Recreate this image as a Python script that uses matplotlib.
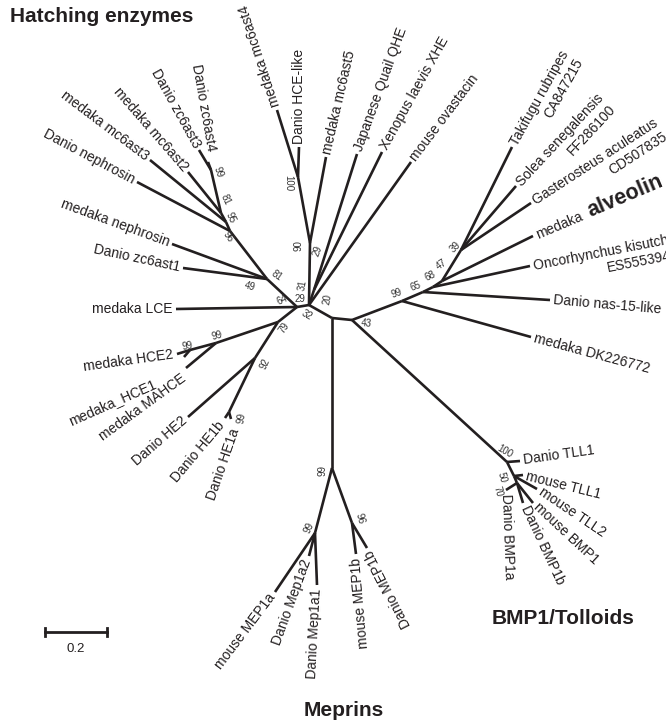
import numpy as np
import matplotlib.pyplot as plt

plt.rcParams['font.family'] = ['Liberation Sans', 'DejaVu Sans']

ink = '#231f20'

# inner nodes of the unrooted tree (pixels, y down)
node_xy = {
    'C': (309, 305), 'L': (297, 307), 'n81': (267, 279), 'n96': (230, 231),
    'n81b': (226, 222), 'n95': (221, 213), 'n99h': (211, 170),
    'n79': (278, 322), 'n99a': (216, 343), 'n99b': (190, 350),
    'n92': (255, 358), 'n99c': (229, 412),
    'n90': (310, 243), 'n100': (298, 177), 'n29': (314, 290),
    'M': (332, 318), 'n43': (352, 320),
    'n99m': (332, 468), 'n99l': (315, 533), 'n96m': (352, 523),
    'n99r': (402, 301), 'n65': (423, 292), 'n68': (433, 287),
    'n47': (442, 281), 'n39': (461, 250),
    'n100b': (507, 462), 'n50': (514, 476), 'n70': (517, 483),
}

edges = [
    ('C', 'L'), ('C', 'n90'), ('C', 'n29'), ('C', 'M'),
    ('L', 'n81'), ('L', 'n79'), ('n81', 'n96'), ('n96', 'n81b'),
    ('n81b', 'n95'), ('n95', 'n99h'), ('n90', 'n100'),
    ('n79', 'n99a'), ('n99a', 'n99b'), ('n79', 'n92'), ('n92', 'n99c'),
    ('M', 'n43'), ('M', 'n99m'), ('n99m', 'n99l'), ('n99m', 'n96m'),
    ('n43', 'n99r'), ('n99r', 'n65'), ('n65', 'n68'), ('n68', 'n47'),
    ('n47', 'n39'), ('n43', 'n100b'), ('n100b', 'n50'), ('n50', 'n70'),
]

tip_names = [
    'medaka mc6ast4', 'Danio HCE-like', 'medaka mc6ast5', 'Japanese Quail QHE',
    'Xenopus laevis XHE', 'mouse ovastacin',
    'Takifugu rubripes\nCA847215', 'Solea senegalensis\nFF286100',
    'Gasterosteus aculeatus\nCD507835', 'medaka alveolin',
    'Oncorhynchus kisutch\nES555394', 'Danio nas-15-like', 'medaka DK226772',
    'Danio TLL1', 'mouse TLL1', 'mouse TLL2', 'mouse BMP1', 'Danio BMP1b',
    'Danio BMP1a',
    'mouse MEP1a', 'Danio Mep1a2', 'Danio Mep1a1', 'mouse MEP1b', 'Danio MEP1b',
    'Danio HE1a', 'Danio HE1b', 'Danio HE2', 'medaka MAHCE', 'medaka_HCE1',
    'medaka HCE2', 'medaka LCE', 'Danio zc6ast1', 'medaka nephrosin',
    'Danio nephrosin', 'medaka mc6ast3', 'medaka mc6ast2', 'Danio zc6ast3',
    'Danio zc6ast4',
]
tip_xy = [
    (277, 110), (299, 147), (326, 157), (357, 154),
    (382, 152), (411, 162),
    (512, 147), (516, 186),
    (531, 203), (533, 236),
    (530, 266), (550, 300), (531, 337),
    (520, 461), (523, 475), (537, 489), (533, 503), (523, 503),
    (506, 490),
    (275, 592), (309, 556), (317, 585), (356, 554), (367, 548),
    (231, 419), (225, 418), (188, 417), (186, 368), (184, 357),
    (177, 354), (176, 309), (183, 268), (172, 244),
    (137, 182), (150, 160), (188, 172), (199, 150),
    (208, 162),
]
tip_parent = [
    'n100', 'n100', 'n90', 'n29', 'n29', 'C',
    'n39', 'n39', 'n39', 'n47', 'n68', 'n65', 'n99r',
    'n100b', 'n50', 'n50', 'n70', 'n70', 'n70',
    'n99l', 'n99l', 'n99l', 'n96m', 'n96m',
    'n99c', 'n99c', 'n92', 'n99a', 'n99b', 'n99b', 'L', 'n81', 'n81',
    'n96', 'n81b', 'n95', 'n99h', 'n99h',
]
# label angle (deg) and which end of the text sits at the tip
tip_rot = [108, 90, 77, 70, 61, 53,
           61, 47, 33, 23, 11, -5, -15,
           8, -14, -34, -43, -65, -88,
           53, 70, 87, 95, 117,
           71, 50, 41, 36, 24, 8, 0, -12, -20,
           -28, -37, -49, -61, -80]
tip_side = ['left'] * 19 + ['right'] * 19
label_at = {'medaka_HCE1': (155, 383), 'Danio zc6ast4': (211, 151),
            'medaka MAHCE': (184, 377), 'Danio HE1b': (222, 423),
            'Danio HE1a': (236, 429)}

boot_values = [99, 81, 95, 96, 100, 90, 29, 31, 20, 29, 64, 81, 49, 32, 79,
               99, 99, 92, 99, 43, 99, 65, 68, 47, 39, 100, 50, 70, 99, 99, 96]
boot_xy = [(218, 172), (226, 200), (231, 218), (228, 237), (288, 183),
           (298, 246), (318, 251), (303, 285), (328, 299), (300, 299),
           (282, 300), (277, 276), (250, 287), (307, 315), (284, 328),
           (217, 336), (187, 346), (265, 364), (242, 418), (366, 323),
           (397, 293), (416, 286), (430, 276), (441, 264), (455, 247),
           (505, 451), (502, 477), (498, 491), (323, 470), (309, 528),
           (360, 519)]
boot_rot = [-70, -65, -65, -55, -90, 90, 70, 80, 80, 0,
            25, -35, -15, -30, 55, 15, 10, 65, 80, -5,
            20, 20, 25, 35, 45, -30, -75, -75, 90, 65, -75]

scale_value = 0.2

fig = plt.figure(figsize=(6.66, 7.22), dpi=100)
ax = fig.add_axes([0, 0, 1, 1])
ax.set_xlim(0, 666)
ax.set_ylim(722, 0)
ax.axis('off')

lw = 1.9
for a, b in edges:
    (x0, y0), (x1, y1) = node_xy[a], node_xy[b]
    ax.plot([x0, x1], [y0, y1], color=ink, lw=lw, solid_capstyle='butt')
for (x, y), p in zip(tip_xy, tip_parent):
    px, py = node_xy[p]
    ax.plot([px, x], [py, y], color=ink, lw=lw, solid_capstyle='butt')

gap = 2.5
for name, xy, rot, side in zip(tip_names, tip_xy, tip_rot, tip_side):
    r = np.deg2rad(rot)
    d = np.array([np.cos(r), np.sin(r)])
    u = np.array([-np.sin(r), np.cos(r)])
    sgn = 1 if side == 'left' else -1
    if name in label_at:
        xy = label_at[name]
        off = np.zeros(2)
    else:
        off = sgn * gap * d
    kw = dict(textcoords='offset points', rotation=rot, rotation_mode='anchor',
              ha=side, color=ink, fontsize=10)
    if name == 'medaka alveolin':
        o1 = off - 3.6 * u
        ax.annotate('medaka', xy=xy, xytext=tuple(o1), va='baseline', **kw)
        o2 = o1 + 40.5 * d
        kw.update(fontsize=15.5)
        ax.annotate('alveolin', xy=xy, xytext=tuple(o2), va='baseline',
                    fontweight='bold', **kw)
    elif '\n' in name:
        o = off + 4.7 * u
        ax.annotate(name, xy=xy, xytext=tuple(o), va='top',
                    multialignment='right', **kw)
    else:
        ax.annotate(name, xy=xy, xytext=tuple(off), va='center', **kw)

for v, (x, y), rot in zip(boot_values, boot_xy, boot_rot):
    ax.text(x, y, str(v), rotation=rot, ha='center', va='center',
            fontsize=7, color='#333333')

# group headings
ax.text(10, 17, 'Hatching enzymes', fontsize=15, fontweight='bold',
        ha='left', va='center', color=ink)
ax.text(563, 619, 'BMP1/Tolloids', fontsize=15, fontweight='bold',
        ha='center', va='center', color=ink)
ax.text(344, 711, 'Meprins', fontsize=15, fontweight='bold',
        ha='center', va='center', color=ink)

# scale bar
bar_x0, bar_len, bar_y = 45, 62, 632
ax.plot([bar_x0, bar_x0 + bar_len], [bar_y, bar_y], color=ink, lw=2)
for bx in (bar_x0, bar_x0 + bar_len):
    ax.plot([bx, bx], [bar_y - 4, bar_y + 4], color=ink, lw=2)
ax.text(bar_x0 + bar_len / 2, 649, str(scale_value), fontsize=9.5,
        ha='center', va='center', color=ink)

fig.savefig('out.png', dpi=100)
